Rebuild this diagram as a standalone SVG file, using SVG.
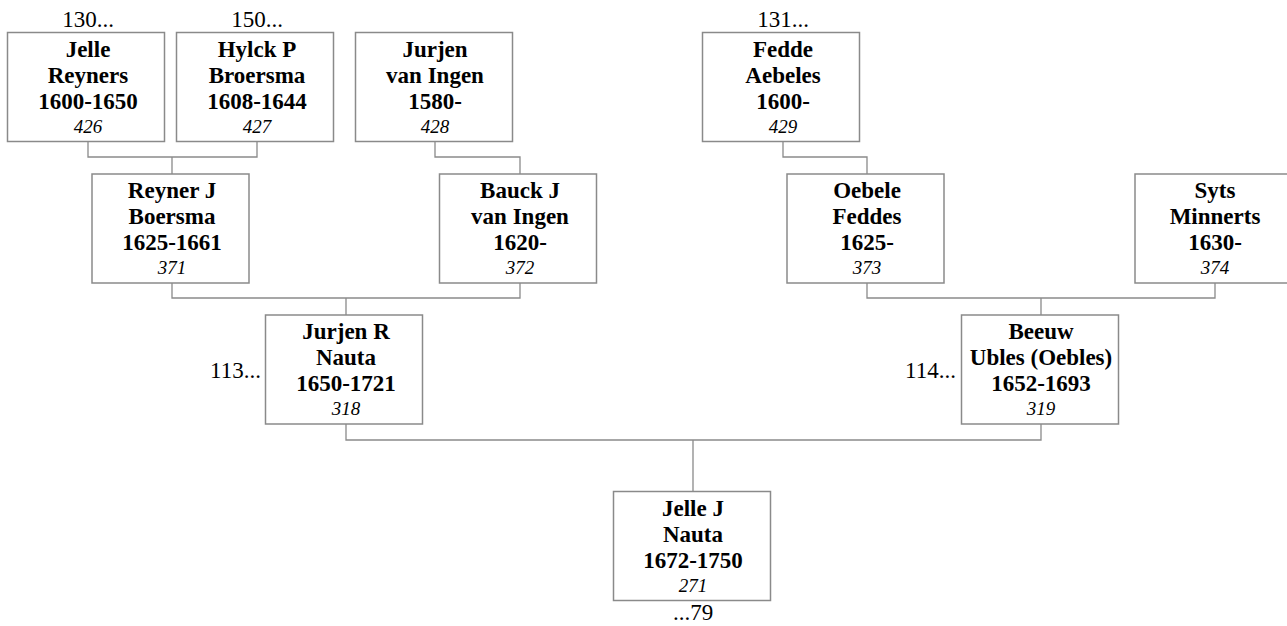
<svg xmlns="http://www.w3.org/2000/svg" width="1287" height="626" viewBox="0 0 1287 626">
<style>
.box{fill:#fff;stroke:#8a8a8a;stroke-width:1.5}
.con{fill:none;stroke:#8a8a8a;stroke-width:1.3}
.nm{font-family:"Liberation Serif","Times New Roman",serif;font-weight:bold;font-size:23px;text-anchor:middle;fill:#000}
.id{font-family:"Liberation Serif","Times New Roman",serif;font-style:italic;font-size:19px;text-anchor:middle;fill:#000}
.lb{font-family:"Liberation Serif","Times New Roman",serif;font-size:23px;fill:#000}
</style>
<rect width="1287" height="626" fill="#fff"/>
<g id="connectors">
<path class="con" d="M88,142 V157 H257 V142 M172,157 V174"/>
<path class="con" d="M435,142 V157 H520 V174"/>
<path class="con" d="M783,142 V157 H867 V174"/>
<path class="con" d="M172,283 V298 H520 V283 M346,298 V315"/>
<path class="con" d="M867,283 V298 H1215 V283 M1041,298 V315"/>
<path class="con" d="M346,424 V440 H1041 V424 M693,440 V491"/>
</g>
<g id="n426">
<rect class="box" x="7.5" y="32.5" width="157" height="109"/>
<text class="lb" x="88" y="27" text-anchor="middle">130...</text>
<text class="nm" x="88" y="56.5">Jelle</text>
<text class="nm" x="88" y="82.5">Reyners</text>
<text class="nm" x="88" y="108.5">1600-1650</text>
<text class="id" x="88" y="132.5">426</text>
</g>
<g id="n427">
<rect class="box" x="176.5" y="32.5" width="157" height="109"/>
<text class="lb" x="257" y="27" text-anchor="middle">150...</text>
<text class="nm" x="257" y="56.5">Hylck P</text>
<text class="nm" x="257" y="82.5">Broersma</text>
<text class="nm" x="257" y="108.5">1608-1644</text>
<text class="id" x="257" y="132.5">427</text>
</g>
<g id="n428">
<rect class="box" x="355.5" y="32.5" width="157" height="109"/>
<text class="nm" x="435" y="56.5">Jurjen</text>
<text class="nm" x="435" y="82.5">van Ingen</text>
<text class="nm" x="435" y="108.5">1580-</text>
<text class="id" x="435" y="132.5">428</text>
</g>
<g id="n429">
<rect class="box" x="702.5" y="32.5" width="157" height="109"/>
<text class="lb" x="783" y="27" text-anchor="middle">131...</text>
<text class="nm" x="783" y="56.5">Fedde</text>
<text class="nm" x="783" y="82.5">Aebeles</text>
<text class="nm" x="783" y="108.5">1600-</text>
<text class="id" x="783" y="132.5">429</text>
</g>
<g id="n371">
<rect class="box" x="92" y="174" width="157" height="109"/>
<text class="nm" x="172" y="198">Reyner J</text>
<text class="nm" x="172" y="224">Boersma</text>
<text class="nm" x="172" y="250">1625-1661</text>
<text class="id" x="172" y="274">371</text>
</g>
<g id="n372">
<rect class="box" x="439.5" y="174" width="157" height="109"/>
<text class="nm" x="520" y="198">Bauck J</text>
<text class="nm" x="520" y="224">van Ingen</text>
<text class="nm" x="520" y="250">1620-</text>
<text class="id" x="520" y="274">372</text>
</g>
<g id="n373">
<rect class="box" x="787" y="174" width="157" height="109"/>
<text class="nm" x="867" y="198">Oebele</text>
<text class="nm" x="867" y="224">Feddes</text>
<text class="nm" x="867" y="250">1625-</text>
<text class="id" x="867" y="274">373</text>
</g>
<g id="n374">
<rect class="box" x="1135" y="174" width="157" height="109"/>
<text class="nm" x="1215" y="198">Syts</text>
<text class="nm" x="1215" y="224">Minnerts</text>
<text class="nm" x="1215" y="250">1630-</text>
<text class="id" x="1215" y="274">374</text>
</g>
<g id="n318">
<rect class="box" x="265.5" y="315" width="157" height="109"/>
<text class="lb" x="261" y="378" text-anchor="end">113...</text>
<text class="nm" x="346" y="338.5">Jurjen R</text>
<text class="nm" x="346" y="364.5">Nauta</text>
<text class="nm" x="346" y="390.5">1650-1721</text>
<text class="id" x="346" y="414.5">318</text>
</g>
<g id="n319">
<rect class="box" x="961.5" y="315" width="157" height="109"/>
<text class="lb" x="956" y="378" text-anchor="end">114...</text>
<text class="nm" x="1041" y="338.5">Beeuw</text>
<text class="nm" x="1041" y="364.5">Ubles (Oebles)</text>
<text class="nm" x="1041" y="390.5">1652-1693</text>
<text class="id" x="1041" y="414.5">319</text>
</g>
<g id="n271">
<rect class="box" x="613.5" y="491.5" width="157" height="109"/>
<text class="nm" x="693" y="516">Jelle J</text>
<text class="nm" x="693" y="542">Nauta</text>
<text class="nm" x="693" y="568">1672-1750</text>
<text class="id" x="693" y="592">271</text>
<text class="lb" x="693" y="620" text-anchor="middle">...79</text>
</g>
</svg>
